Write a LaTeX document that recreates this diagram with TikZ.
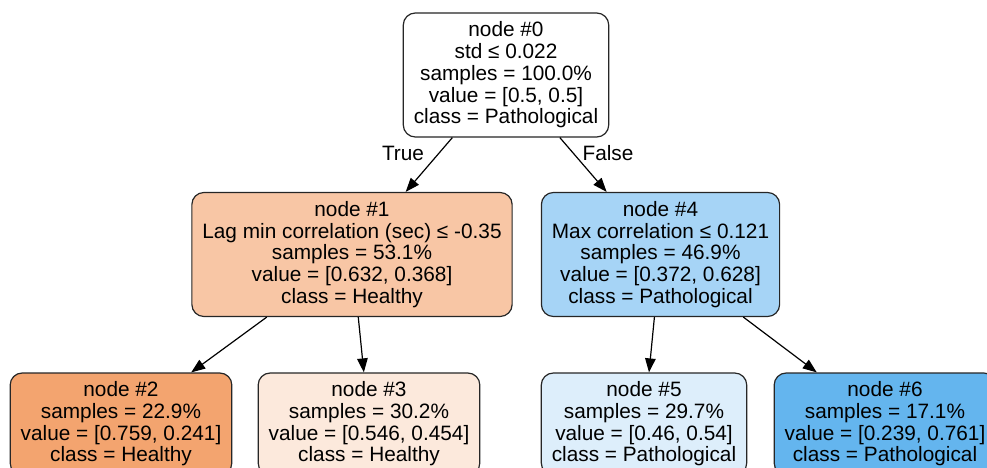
\documentclass[tikz,border=0pt]{standalone}
\usepackage{fontspec}
\setmainfont{Liberation Sans}
\usepackage{tikz}
\usetikzlibrary{arrows.meta}

\definecolor{healthyA}{HTML}{F8C6A5}
\definecolor{healthyB}{HTML}{F3A46F}
\definecolor{healthyC}{HTML}{FCE9DC}
\definecolor{pathoA}{HTML}{A6D4F6}
\definecolor{pathoB}{HTML}{DDEEFB}
\definecolor{pathoC}{HTML}{64B5EE}

\begin{document}
\begin{tikzpicture}[x=1pt, y=-1pt, >={Triangle[length=14pt,width=10.5pt]}, font=\fontsize{20.8}{21.7}\selectfont, treenode/.style={draw=black!85, line width=1.2pt, rounded corners=12pt, align=center, inner xsep=10.5pt, minimum height=124pt}, leafnode/.style={treenode, minimum height=102pt}, edge/.style={line width=1.2pt}]

\useasboundingbox (0,0) rectangle (987,468);
\clip (0,0) rectangle (987,468);

\node[treenode, fill=white] (root) at (506, 75) {node \#0\\std ≤ 0.022\\samples = 100.0\%\\value = [0.5, 0.5]\\class = Pathological};
\node[treenode, fill=healthyA] (lagmin) at (352, 254.5) {node \#1\\Lag min correlation (sec) ≤ -0.35\\samples = 53.1\%\\value = [0.632, 0.368]\\class = Healthy};
\node[treenode, fill=pathoA] (maxcorr) at (660.5, 254.5) {node \#4\\Max correlation ≤ 0.121\\samples = 46.9\%\\value = [0.372, 0.628]\\class = Pathological};
\node[leafnode, fill=healthyB] (leaftwo) at (121, 424) {node \#2\\samples = 22.9\%\\value = [0.759, 0.241]\\class = Healthy};
\node[leafnode, fill=healthyC] (leafthree) at (369, 424) {node \#3\\samples = 30.2\%\\value = [0.546, 0.454]\\class = Healthy};
\node[leafnode, fill=pathoB] (leaffive) at (644, 424) {node \#5\\samples = 29.7\%\\value = [0.46, 0.54]\\class = Pathological};
\node[leafnode, fill=pathoC] (leafsix) at (885, 424) {node \#6\\samples = 17.1\%\\value = [0.239, 0.761]\\class = Pathological};

\node (truelbl) at (403, 153) {True};
\node (falselbl) at (608, 153) {False};

\draw [edge, ->] (root) -- (lagmin);
\draw [edge, ->] (root) -- (maxcorr);
\draw [edge, ->] (lagmin) -- (leaftwo);
\draw [edge, ->] (lagmin) -- (leafthree);
\draw [edge, ->] (maxcorr) -- (leaffive);
\draw [edge, ->] (maxcorr) -- (leafsix);

\end{tikzpicture}
\end{document}
